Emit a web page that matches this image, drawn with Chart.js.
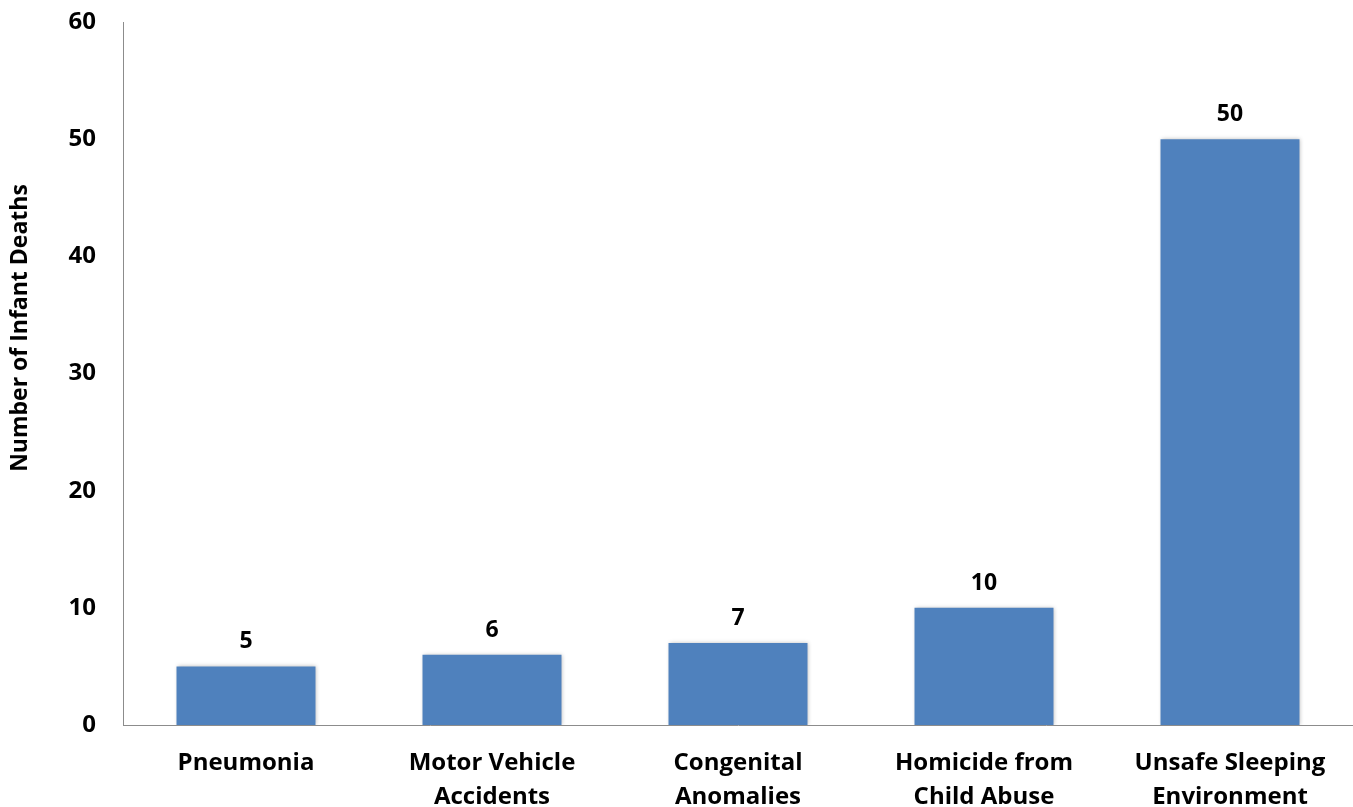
<!DOCTYPE html>
<html>
<head>
<meta charset="utf-8">
<script src="https://cdn.jsdelivr.net/npm/chart.js@4/dist/chart.umd.min.js"></script>
<style>
  html, body { margin: 0; padding: 0; background: #fff; }
  #wrap { width: 1353px; height: 807px; position: relative; }
</style>
</head>
<body>
<div id="wrap"><canvas id="c"></canvas></div>
<script>
const categories = [
  ["Pneumonia"],
  ["Motor Vehicle", "Accidents"],
  ["Congenital", "Anomalies"],
  ["Homicide from", "Child Abuse"],
  ["Unsafe Sleeping", "Environment"]
];
const deaths = [5, 6, 7, 10, 50];
const yTicks = [0, 10, 20, 30, 40, 50, 60];
const yTitle = "Number of Infant Deaths";

const FONT = "'Open Sans', 'Liberation Sans', sans-serif";

const valueLabels = {
  id: 'valueLabels',
  afterDatasetsDraw(chart) {
    const ctx = chart.ctx;
    const meta = chart.getDatasetMeta(0);
    ctx.save();
    ctx.font = "bold 23px " + FONT;
    ctx.fillStyle = "#000";
    ctx.textAlign = "center";
    ctx.textBaseline = "alphabetic";
    meta.data.forEach((bar, i) => {
      ctx.fillText(String(chart.data.datasets[0].data[i]), bar.x, bar.y - 18);
    });
    ctx.restore();
  }
};

const yAxisTitle = {
  id: 'yAxisTitle',
  afterDraw(chart) {
    const ctx = chart.ctx;
    ctx.save();
    ctx.translate(20, 328);
    ctx.rotate(-Math.PI / 2);
    ctx.font = "bold 23px " + FONT;
    ctx.fillStyle = "#000";
    ctx.textAlign = "center";
    ctx.textBaseline = "middle";
    ctx.fillText(yTitle, 0, 0);
    ctx.restore();
  }
};

const barShadow = {
  id: 'barShadow',
  beforeDatasetDraw(chart) {
    const ctx = chart.ctx;
    ctx.save();
    ctx.shadowColor = "rgba(0,0,0,0.25)";
    ctx.shadowBlur = 4;
    ctx.shadowOffsetX = 1;
    ctx.shadowOffsetY = 0;
  },
  afterDatasetDraw(chart) {
    chart.ctx.restore();
  }
};

new Chart(document.getElementById('c'), {
  type: 'bar',
  data: {
    labels: categories,
    datasets: [{
      data: deaths,
      backgroundColor: '#4F81BD',
      borderWidth: 0,
      categoryPercentage: 1.0,
      barPercentage: 0.565
    }]
  },
  options: {
    responsive: true,
    maintainAspectRatio: false,
    animation: false,
    devicePixelRatio: 1,
    layout: { padding: { top: 22, right: 0, left: 0, bottom: 0 } },
    plugins: {
      legend: { display: false },
      tooltip: { enabled: false },
      title: { display: false }
    },
    scales: {
      x: {
        grid: { display: false, drawTicks: false },
        border: { display: true, color: '#8c8c8c', width: 1 },
        ticks: {
          color: '#000',
          font: { family: FONT, size: 24, weight: 'bold', lineHeight: 1.42 },
          padding: 21,
          maxRotation: 0,
          autoSkip: false
        },
        afterFit(scale) { scale.height = 82; scale.paddingLeft = 0; scale.paddingRight = 0; }
      },
      y: {
        min: 0,
        max: 60,
        afterBuildTicks(scale) { scale.ticks = yTicks.map(v => ({ value: v })); },
        grid: { display: false, drawTicks: false },
        border: { display: true, color: '#8c8c8c', width: 1 },
        ticks: {
          color: '#000',
          font: { family: FONT, size: 24, weight: 'bold' },
          padding: 27
        },
        title: { display: false },
        afterFit(scale) { scale.width = 123; scale.paddingTop = 0; scale.paddingBottom = 0; }
      }
    }
  },
  plugins: [barShadow, valueLabels, yAxisTitle]
});
</script>
</body>
</html>
